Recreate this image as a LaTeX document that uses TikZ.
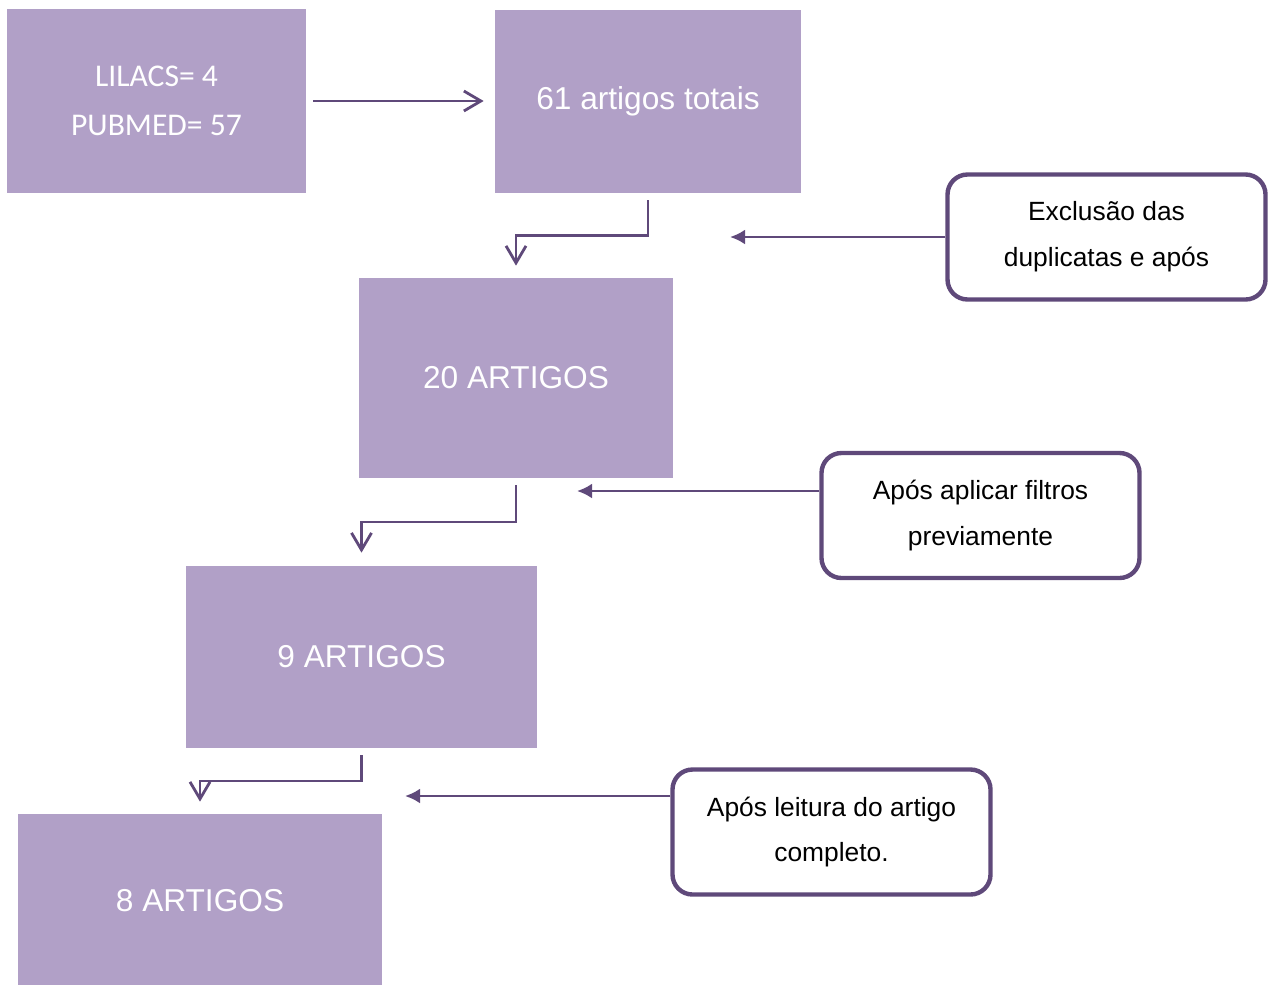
\documentclass[tikz,border=0pt]{standalone}
\usepackage{fontspec}
\setmainfont{Liberation Sans}
\newfontfamily\carlito{Carlito}
\usetikzlibrary{calc,arrows.meta,positioning}
\definecolor{lilac}{RGB}{177,160,199}
\definecolor{plum}{RGB}{95,73,122}

\begin{document}
\begin{tikzpicture}[
     box/.style={fill=lilac,text=white,inner sep=0pt,align=center,font=\fontsize{18}{22}\selectfont},
     note/.style={draw=plum,line width=2.5pt,rounded corners=0.4cm,fill=white,minimum width=6.36cm,minimum height=2.5cm,align=center,font=\fontsize{15}{26}\selectfont},
     flow/.style={draw=plum,line width=1.6pt,-{Straight Barb[length=3.4mm,width=4mm]}},
     push/.style={draw=plum,line width=1.6pt,-{Latex[length=3mm,width=3mm]}}]
    \useasboundingbox (0,0) rectangle (25.5,-19.68);
    \node[box,font=\carlito\fontsize{18}{28}\selectfont,minimum width=5.98cm,minimum height=3.68cm] (bases) at (3.13,-2.02) {LILACS= 4\\PUBMED= 57};
    \node[box,minimum width=6.12cm,minimum height=3.66cm] (total) at (12.96,-2.03) {61 artigos totais};
    \node[box,minimum width=6.28cm,minimum height=4cm]    (n20)   at (10.32,-7.56) {20 ARTIGOS};
    \node[box,minimum width=7.02cm,minimum height=3.64cm] (n9)    at (7.23,-13.14) {9 ARTIGOS};
    \node[box,minimum width=7.28cm,minimum height=3.48cm] (n8)    at (4.0,-18.02)  {8 ARTIGOS};
    \coordinate (dupend)  at (14.6,-4.72);
    \coordinate (filtend) at (11.54,-9.82);
    \coordinate (readend) at (8.1,-15.92);
    \draw[flow,shorten <=0.14cm,shorten >=0.22cm] (bases.east) -- (bases.east -| total.west);
    \draw[flow,shorten <=0.14cm,shorten >=0.24cm] (total.south) |- ($(total.south)!.5!(n20.north)$) -| (n20.north);
    \draw[flow,shorten <=0.14cm,shorten >=0.26cm] (n20.south) |- ($(n20.south)!.5!(n9.north)$) -| (n9.north);
    \draw[flow,shorten <=0.14cm,shorten >=0.24cm] (n9.south) |- ($(n9.south)!.5!(n8.north)$) -| (n8.north);
    \node[note] (dup)  at (22.13,-4.74)  {Exclusão das\\duplicatas e após};
    \node[note] (filt) at (19.61,-10.31) {Após aplicar filtros\\previamente};
    \node[note] (read) at (16.63,-16.64) {Após leitura do artigo\\completo.};
    \draw[push] (dup.west) -- (dup.west -| dupend);
    \draw[push] (filt.west |- filtend) -- (filtend);
    \draw[push] (read.west |- readend) -- (readend);
  \end{tikzpicture}
\end{document}
